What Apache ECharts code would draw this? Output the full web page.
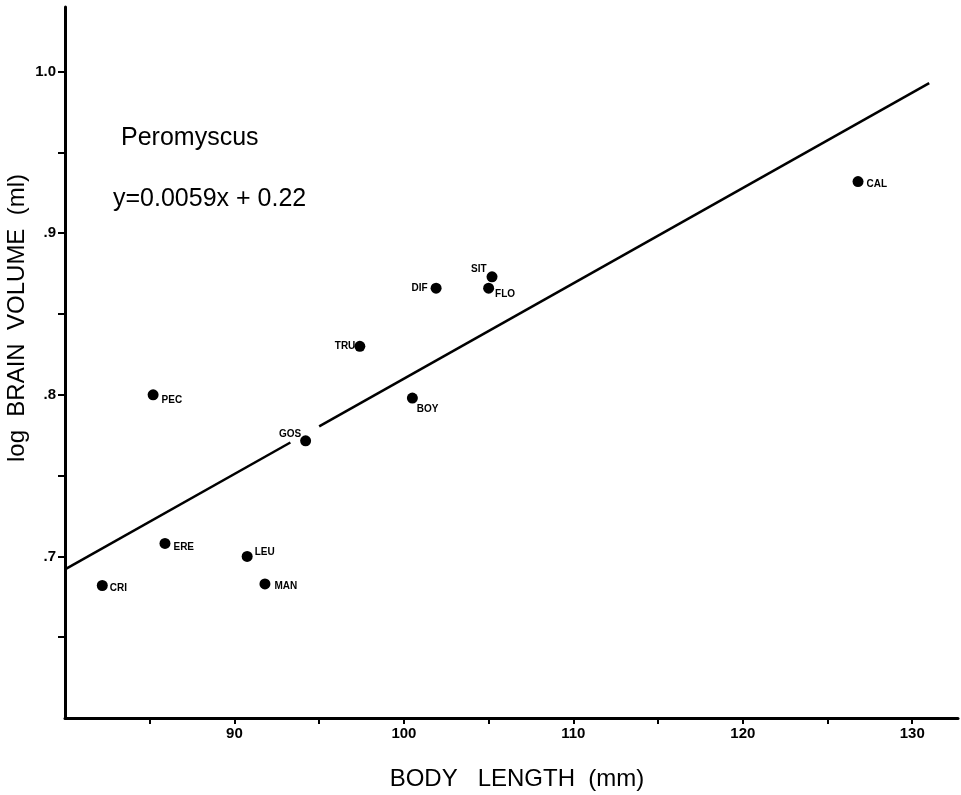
<!DOCTYPE html>
<html>
<head>
<meta charset="utf-8">
<script src="https://cdn.jsdelivr.net/npm/echarts@6/dist/echarts.min.js"></script>
<style>
  html, body { margin: 0; padding: 0; background: #fff; }
  #main { width: 961px; height: 795px; }
</style>
</head>
<body>
<div id="main"></div>
<script>
// species code, body length (mm), log brain volume (ml)
const species = ['CRI', 'PEC', 'ERE', 'LEU', 'MAN', 'GOS', 'TRU', 'BOY', 'DIF', 'FLO', 'SIT', 'CAL'];
const bodyLength = [82.2, 85.2, 85.9, 90.75, 91.8, 94.2, 97.4, 100.5, 101.9, 105.0, 105.2, 126.8];
const logBrain = [0.682, 0.800, 0.708, 0.700, 0.683, 0.7715, 0.830, 0.798, 0.866, 0.866, 0.873, 0.932];

// regression line y = 0.0059x + 0.22, drawn in two pieces (gap at GOS label)
const fitLeft = [[80, 0.692], [93.3, 0.7705]];
const fitRight = [[95.0, 0.7805], [131, 0.9929]];

// ticks and tick labels
const xTicks = [85, 90, 95, 100, 105, 110, 115, 120, 125, 130];
const xTickLabels = [90, 100, 110, 120, 130];
const yTicks = [0.65, 0.7, 0.75, 0.8, 0.85, 0.9, 0.95, 1.0];
const yTickLabels = [0.7, 0.8, 0.9, 1.0];
const yLabelText = { 70: '.7', 80: '.8', 90: '.9', 100: '1.0' };

// label placement per point: [side, distance, offset]
const labelPlace = {
  CRI: ['right', 2, [0, 3]],
  PEC: ['right', 3, [0, 5]],
  ERE: ['right', 3, [0, 4]],
  LEU: ['right', 2, [0, -4]],
  MAN: ['right', 4, [0, 2]],
  GOS: ['left', 0, [1, -7]],
  TRU: ['left', 0, [1, 0]],
  BOY: ['right', 5, [-6, 11]],
  DIF: ['left', 3, [0, 0]],
  FLO: ['right', 1, [0, 6]],
  SIT: ['left', 0, [0, -8]],
  CAL: ['right', 3, [0, 3]]
};

const FONT = '"Liberation Sans", Arial, Helvetica, sans-serif';

const points = species.map((name, i) => {
  const p = labelPlace[name];
  return {
    name,
    value: [bodyLength[i], logBrain[i]],
    label: { position: p[0], distance: p[1], offset: p[2] }
  };
});

const chart = echarts.init(document.getElementById('main'));
chart.setOption({
  animation: false,
  backgroundColor: '#fff',
  grid: { left: 65, right: 3, top: 7, bottom: 77 },
  xAxis: {
    type: 'value',
    min: 80,
    max: 132.7,
    interval: 5,
    splitLine: { show: false },
    axisLine: { lineStyle: { color: '#000', width: 3 } },
    axisTick: { length: 6, customValues: xTicks, lineStyle: { color: '#000', width: 2 } },
    axisLabel: {
      margin: 8,
      color: '#000',
      fontFamily: FONT,
      fontWeight: 'bold',
      fontSize: 15,
      customValues: xTickLabels,
      formatter: v => String(Math.round(v))
    }
  },
  yAxis: {
    type: 'value',
    min: 0.6,
    max: 1.04,
    interval: 0.05,
    splitLine: { show: false },
    axisLine: { lineStyle: { color: '#000', width: 3 } },
    axisTick: { length: 7, customValues: yTicks, lineStyle: { color: '#000', width: 2 } },
    axisLabel: {
      margin: 9,
      color: '#000',
      fontFamily: FONT,
      fontWeight: 'bold',
      fontSize: 15,
      customValues: yTickLabels,
      formatter: v => yLabelText[Math.round(v * 100)] || ''
    }
  },
  graphic: [
    {
      type: 'text', left: 121, top: 126,
      style: { text: 'Peromyscus', fontFamily: FONT, fontSize: 25, fill: '#000' }
    },
    {
      type: 'text', left: 113, top: 187,
      style: { text: 'y=0.0059x + 0.22', fontFamily: FONT, fontSize: 25, fill: '#000' }
    },
    {
      type: 'text', x: 517, y: 779,
      style: { text: 'BODY   LENGTH  (mm)', fontFamily: FONT, fontSize: 24, fill: '#000', align: 'center', verticalAlign: 'middle' }
    },
    {
      type: 'text', x: 17, y: 318, rotation: Math.PI / 2,
      style: { text: 'log  BRAIN  VOLUME  (ml)', fontFamily: FONT, fontSize: 24, fill: '#000', align: 'center', verticalAlign: 'middle' }
    }
  ],
  series: [
    {
      type: 'line',
      data: fitLeft,
      symbol: 'none',
      lineStyle: { color: '#000', width: 2.5 },
      silent: true
    },
    {
      type: 'line',
      data: fitRight,
      symbol: 'none',
      lineStyle: { color: '#000', width: 2.5 },
      silent: true
    },
    {
      type: 'scatter',
      data: points,
      symbol: 'circle',
      symbolSize: 11,
      itemStyle: { color: '#000', opacity: 1 },
      label: {
        show: true,
        formatter: '{b}',
        color: '#000',
        fontFamily: FONT,
        fontWeight: 'bold',
        fontSize: 10
      }
    }
  ]
});
</script>
</body>
</html>
